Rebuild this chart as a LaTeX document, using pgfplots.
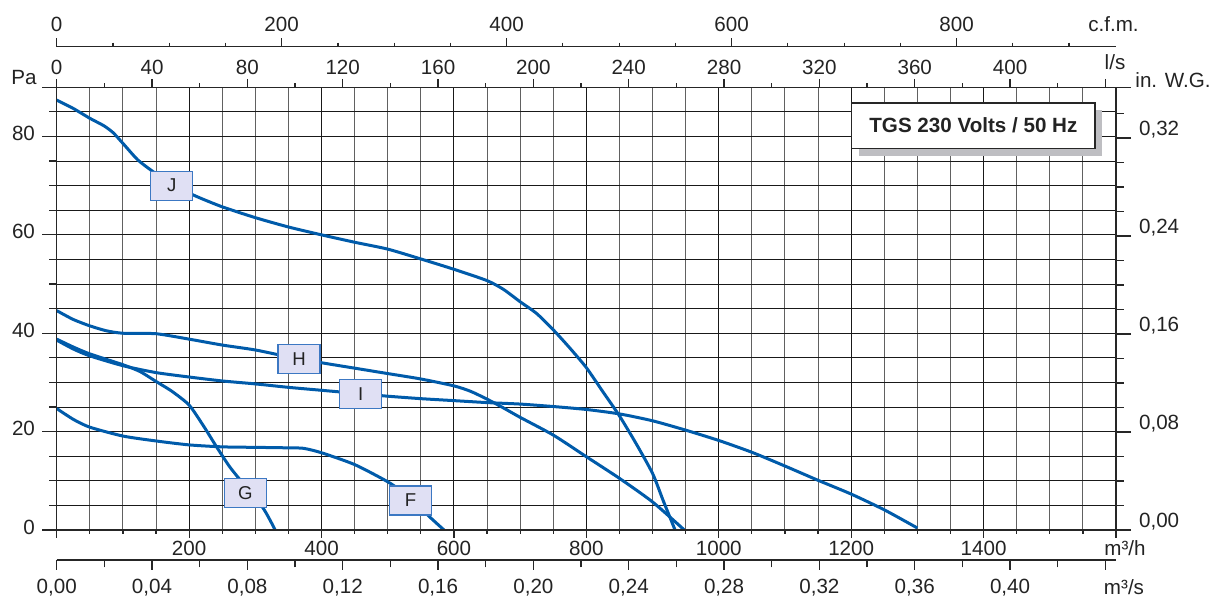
\documentclass[border=0pt]{standalone}
\usepackage{fontspec}
\setmainfont{Liberation Sans}
\usepackage{pgfplots}
\pgfplotsset{compat=1.18}
\definecolor{curveblue}{RGB}{0,91,170}
\definecolor{boxfill}{RGB}{224,224,244}
\definecolor{boxedge}{RGB}{60,120,195}
\definecolor{shadowgray}{RGB}{190,190,194}
\definecolor{txt}{RGB}{35,35,35}
\newcommand{\tf}{\fontsize{10.3}{12}\selectfont}
\pgfplotsset{
  base/.style={scale only axis, width=529.65pt, height=221.35pt,
    tick label style={font=\tf, text=txt},
    axis line style={line width=0.6pt, black!85},
    tick style={line width=0.6pt, black!85},
    tick align=outside},
  curve/.style={curveblue, line width=1.5pt, line join=round, no marks, smooth, tension=0.4},
}
\tikzset{
  lab/.style={draw=boxedge, fill=boxfill, line width=0.6pt, minimum width=21pt,
    minimum height=14.5pt, inner sep=0pt, font=\fontsize{9.3}{11}\selectfont, text=txt},
}
\begin{document}
\begin{tikzpicture}
\path[use as bounding box] (-28.35pt,-36.5pt) rectangle (584.65pt,265pt);
% main: grid + curves
\begin{axis}[base, xmin=0, xmax=1600, ymin=0, ymax=90,
  xtick={0,200,...,1600}, minor xtick={0,50,...,1600},
  ytick={0,5,...,90},
  xticklabels=\empty, yticklabels=\empty,
  major tick length=0pt, minor tick length=0pt,
  grid=both,
  major grid style={line width=0.5pt, black!90},
  minor grid style={line width=0.5pt, black!62}]
\addplot[curve] coordinates {(0,87.4)(25,85.7)(50,83.7)(71,82.2)(85,80.8)(100,78.6)(122,75.3)(142,73.2)(170,70.6)(208,68)(250,65.7)(300,63.5)(350,61.6)(400,60)(450,58.5)(500,57.1)(550,55.1)(600,53)(650,50.7)(675,48.9)(700,46.4)(725,44)(750,40.7)(775,37)(800,33)(825,28.1)(850,23.2)(875,17.6)(900,11.5)(916,6)(934,0)};
\addplot[curve] coordinates {(0,44.6)(25,42.8)(50,41.5)(75,40.5)(100,40)(150,39.9)(200,38.8)(250,37.6)(300,36.6)(350,35.2)(400,34)(450,32.9)(500,31.8)(550,30.7)(600,29.3)(625,28.2)(650,26.6)(675,24.8)(700,22.9)(750,19.3)(800,14.9)(850,10.5)(900,5.7)(948,0)};
\addplot[curve] coordinates {(0,38.6)(25,36.8)(50,35.4)(100,33.4)(150,32.0)(200,31.1)(250,30.3)(300,29.7)(350,29.0)(400,28.4)(450,27.8)(500,27.2)(550,26.7)(600,26.3)(650,25.9)(700,25.6)(750,25.1)(800,24.5)(850,23.6)(900,22.2)(950,20.3)(1000,18.2)(1050,15.8)(1100,13)(1150,10.1)(1200,7.3)(1250,4.1)(1300,0.4)};
\addplot[curve] coordinates {(0,38.8)(25,37.2)(50,35.8)(100,33.6)(126,32.2)(150,30.2)(174,28.2)(200,25.4)(222,21.1)(241,17)(261,12.9)(280,9.7)(312,4.4)(330,0)};
\addplot[curve] coordinates {(0,24.7)(25,22.5)(50,20.9)(100,19.1)(150,18.1)(200,17.3)(250,16.9)(300,16.8)(350,16.7)(373,16.6)(400,15.7)(450,13.3)(500,9.8)(530,7.0)(563,2.7)(585,0)};
\node[lab] at (axis cs:173.7,70.0) {J};
\node[lab] at (axis cs:366,34.7) {H};
\node[lab] at (axis cs:459,27.6) {I};
\node[lab] at (axis cs:285,7.55) {G};
\node[lab] at (axis cs:534.5,6.0) {F};
\node[fill=shadowgray, minimum width=121.7pt, minimum height=22.8pt, inner sep=0pt, xshift=3.5pt, yshift=-3.7pt] at (axis cs:1384.6,82.2) {};
\node[fill=white, draw=black!85, line width=0.7pt, minimum width=121.7pt, minimum height=22.8pt, inner sep=0pt, font=\bfseries\tf, text=txt] at (axis cs:1384.6,82.2) {TGS 230 Volts / 50 Hz};
\end{axis}
% bottom m3/h
\begin{axis}[base, xmin=0, xmax=1600, ymin=0, ymax=90, hide y axis, axis x line*=bottom,
  xtick={0,200,...,1600}, minor xtick={0,50,...,1600},
  xticklabels={,200,400,600,800,1000,1200,1400,},
  major tick length=4pt, minor tick length=2pt,
  xticklabel style={yshift=1.75pt}]
\end{axis}
% left Pa
\begin{axis}[base, xmin=0, xmax=1600, ymin=0, ymax=90, hide x axis, axis y line*=left,
  ytick={0,20,...,80}, minor ytick={5,10,15,25,30,35,45,50,55,65,70,75,85},
  yticklabels={0,20,40,60,80},
  extra y ticks={90}, extra y tick labels={},
  major tick length=7.35pt, minor tick length=3.85pt,
  yticklabel style={yshift=1.5pt}]
\end{axis}
% right in. W.G.
\begin{axis}[base, xmin=0, xmax=1600, ymin=0, ymax=0.361315, hide x axis, axis y line*=right,
  ytick={0,0.08,0.16,0.24,0.32},
  minor ytick={0.02,0.04,0.06,0.1,0.12,0.14,0.18,0.2,0.22,0.26,0.28,0.3,0.34},
  yticklabels={{0,00},{0,08},{0,16},{0,24},{0,32}},
  extra y ticks={0.361315}, extra y tick labels={},
  major tick length=7.5pt, minor tick length=3.85pt,
  yticklabel style={yshift=4.3pt, xshift=0.5pt}]
\end{axis}
% top l/s
\begin{axis}[base, xmin=0, xmax=444.444, ymin=0, ymax=90, hide y axis, axis x line*=top,
  xtick={0,40,80,120,160,200,240,280,320,360,400,440},
  minor xtick={20,60,100,140,180,220,260,300,340,380,420},
  xticklabels={0,40,80,120,160,200,240,280,320,360,400,},
  major tick length=4.2pt, minor tick length=2pt,
  xticklabel style={yshift=-1.3pt}]
\end{axis}
% top cfm
\begin{axis}[base, height=1pt, at={(0,240.65pt)}, anchor=south west,
  xmin=0, xmax=941.73, ymin=0, ymax=1, hide y axis, axis x line*=top,
  xtick={0,200,400,600,800},
  minor xtick={50,100,...,900},
  xticklabels={0,200,400,600,800},
  major tick length=4.2pt, minor tick length=2pt]
\end{axis}
% bottom m3/s
\begin{axis}[base, height=1pt, at={(0,-15pt)}, anchor=south west,
  xmin=0, xmax=0.444444, ymin=0, ymax=1, hide y axis, axis x line*=bottom,
  xtick={0,0.04,0.08,0.12,0.16,0.2,0.24,0.28,0.32,0.36,0.4,0.44},
  minor xtick={0.02,0.06,0.1,0.14,0.18,0.22,0.26,0.3,0.34,0.38,0.42},
  xticklabels={{0,00},{0,04},{0,08},{0,12},{0,16},{0,20},{0,24},{0,28},{0,32},{0,36},{0,40},},
  major tick length=5pt, minor tick length=3.7pt,
  xticklabel style={yshift=-1.25pt}]
\end{axis}
\begin{scope}[every node/.style={font=\tf, text=txt}]
\node at (-16.35pt,226pt) {Pa};
\node at (558.15pt,225pt) {in. W.G.};
\node at (534.15pt,-9pt) {m³/h};
\node at (533.65pt,-28.5pt) {m³/s};
\node at (529.15pt,234pt) {l/s};
\node at (528.4pt,253pt) {c.f.m.};
\end{scope}
\end{tikzpicture}
\end{document}
